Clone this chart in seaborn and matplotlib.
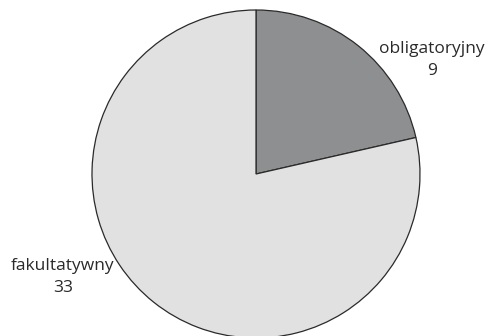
import matplotlib
matplotlib.use("Agg")
import matplotlib.pyplot as plt
import seaborn as sns

categories = ["obligatoryjny", "fakultatywny"]
values = [9, 33]
colors = ["#8e8f91", "#e1e1e2"]

sns.set_theme(style="white")
plt.rcParams["font.family"] = ["Open Sans", "DejaVu Sans"]

fig = plt.figure(figsize=(4.99, 3.36), dpi=100)
ax = fig.add_axes([0, 0, 1, 1])

ax.pie(values, colors=colors, startangle=90, counterclock=False,
       center=(256, 162), radius=164, frame=True,
       wedgeprops=dict(edgecolor="#2a2a2a", linewidth=0.9))
ax.axis("off")
ax.set_xlim(0, 499)
ax.set_ylim(0, 336)
ax.set_aspect("equal")

label_pos = [(432, 276), (63, 59)]
for name, val, (x, y) in zip(categories, values, label_pos):
    ax.text(x, y, f"{name}\n{val}", ha="center", va="center",
            fontsize=12.5, color="#2a2a2a", linespacing=1.45)

fig.savefig("out.png", dpi=100)
